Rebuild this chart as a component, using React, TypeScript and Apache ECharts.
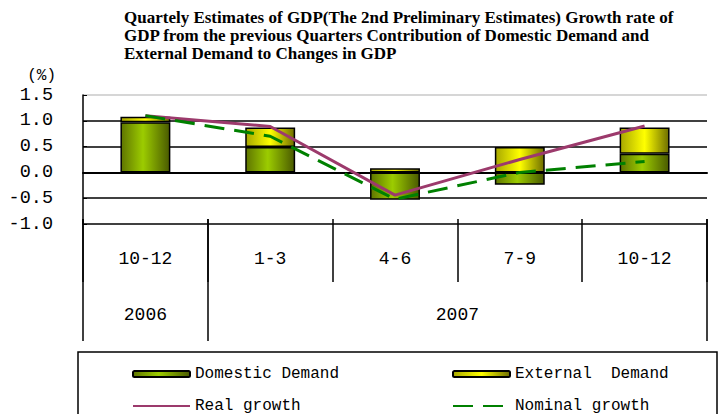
import React, { useEffect, useRef } from "react";
import * as echarts from "echarts";

const quarters = ["10-12", "1-3", "4-6", "7-9", "10-12"];
const years = ["2006", "2007"];
const yearSpans = [1, 4];
const domestic = [0.97, 0.49, -0.53, -0.24, 0.36];
const external = [0.11, 0.38, 0.08, 0.49, 0.51];
const realGrowth = [1.1, 0.89, -0.44, 0.25, 0.9];
const nominalGrowth = [1.1, 0.7, -0.52, 0.0, 0.21];
const yMin = -1.0;
const yMax = 1.5;
const yStep = 0.5;

const titleLines = [
  "Quartely Estimates of GDP(The 2nd Preliminary Estimates) Growth rate of",
  "GDP from the previous Quarters Contribution of Domestic Demand and",
  "External Demand to Changes in GDP",
];

const MONO = "'Liberation Mono', 'DejaVu Sans Mono', monospace";

export default function App() {
  const ref = useRef<HTMLDivElement>(null);
  useEffect(() => {
    if (!ref.current) return;
    document.body.style.margin = "0";
    const chart = echarts.init(ref.current, null, { renderer: "svg" });

    const boundaries: number[] = [0];
    const yearCenters: number[] = [];
    yearSpans.forEach((s) => {
      const start = boundaries[boundaries.length - 1];
      yearCenters.push(start + s / 2);
      boundaries.push(start + s);
    });

    const greenGrad = new echarts.graphic.LinearGradient(0, 0, 1, 0, [
      { offset: 0, color: "#5f7500" },
      { offset: 0.45, color: "#9ccc00" },
      { offset: 1, color: "#4a5a00" },
    ]);
    const yellowGrad = new echarts.graphic.LinearGradient(0, 0, 1, 0, [
      { offset: 0, color: "#a8a800" },
      { offset: 0.5, color: "#ffff00" },
      { offset: 1, color: "#6e6e00" },
    ]);

    const nTicks = Math.round((yMax - yMin) / yStep) + 1;
    const splitColors = Array.from({ length: nTicks }, (_, i) =>
      i === nTicks - 1 ? "#c8c8c8" : "#000000"
    );

    chart.setOption({
      animation: false,
      backgroundColor: "#ffffff",
      title: {
        text: titleLines.join("\n"),
        left: 124,
        top: 8,
        padding: 0,
        textStyle: {
          fontFamily: "'Liberation Serif', 'Times New Roman', serif",
          fontWeight: "bold",
          fontSize: 17,
          lineHeight: 18,
          color: "#000",
        },
      },
      grid: { left: 83, right: 15, top: 95, bottom: 190, containLabel: false },
      xAxis: [
        {
          type: "category",
          data: quarters,
          position: "bottom",
          axisLine: { show: true, lineStyle: { color: "#000", width: 2 } },
          axisTick: { show: false },
          axisLabel: {
            margin: 26,
            fontFamily: MONO,
            fontSize: 18,
            color: "#000",
            interval: 0,
          },
          splitLine: { show: false },
        },
        {
          type: "category",
          data: quarters,
          position: "bottom",
          offset: -5,
          axisLine: { show: false },
          axisTick: { show: true, length: 63, interval: 0, lineStyle: { color: "#000", width: 1.5 } },
          axisLabel: { show: false },
          splitLine: { show: false },
        },
        {
          type: "value",
          min: boundaries[0],
          max: boundaries[boundaries.length - 1],
          position: "bottom",
          offset: -5,
          axisLine: { show: false },
          axisTick: {
            show: true,
            length: 122,
            customValues: boundaries,
            lineStyle: { color: "#000", width: 1.5 },
          },
          axisLabel: {
            show: true,
            customValues: yearCenters,
            formatter: (v: number) => {
              const i = yearCenters.findIndex((c) => Math.abs(c - v) < 1e-6);
              return i >= 0 ? years[i] : "";
            },
            margin: 87,
            fontFamily: MONO,
            fontSize: 18,
            color: "#000",
          },
          splitLine: { show: false },
        },
      ],
      yAxis: {
        type: "value",
        min: yMin,
        max: yMax,
        interval: yStep,
        name: "(%)",
        nameLocation: "end",
        nameGap: 11,
        nameTextStyle: {
          fontFamily: MONO,
          fontSize: 16,
          color: "#000",
          align: "right",
          verticalAlign: "bottom",
          padding: [0, 27, 0, 0],
        },
        axisLine: { show: true, lineStyle: { color: "#000", width: 1.5 } },
        axisTick: { show: true, inside: true, length: 4, lineStyle: { color: "#000" } },
        axisLabel: {
          margin: 30,
          fontFamily: MONO,
          fontSize: 18.5,
          color: "#000",
          formatter: (v: number) => v.toFixed(1),
        },
        splitLine: { show: true, lineStyle: { color: splitColors, width: 1.5 } },
      },
      legend: [
        {
          data: [
            "Domestic Demand",
            { name: "Real growth", itemStyle: { opacity: 0 } },
          ],
          orient: "vertical",
          left: 132,
          top: 366,
          padding: 0,
          itemWidth: 57,
          itemHeight: 6,
          itemGap: 16,
          textStyle: { fontFamily: MONO, fontSize: 16, color: "#000" },
        },
        {
          data: [
            "External Demand",
            { name: "Nominal growth", itemStyle: { opacity: 0 } },
          ],
          orient: "vertical",
          left: 452,
          top: 366,
          padding: 0,
          itemWidth: 57,
          itemHeight: 6,
          itemGap: 16,
          textStyle: { fontFamily: MONO, fontSize: 16, color: "#000" },
          formatter: (n: string) => (n === "External Demand" ? "External  Demand" : n),
        },
      ],
      graphic: [
        {
          type: "rect",
          shape: { x: 78, y: 352, width: 639, height: 90 },
          style: { fill: "none", stroke: "#000", lineWidth: 1.5 },
          silent: true,
        },
      ],
      series: [
        {
          name: "Domestic Demand",
          type: "bar",
          stack: "gdp",
          xAxisIndex: 0,
          barWidth: "40%",
          data: domestic,
          itemStyle: { color: greenGrad, borderColor: "#000", borderWidth: 1.5 },
        },
        {
          name: "External Demand",
          type: "bar",
          stack: "gdp",
          xAxisIndex: 0,
          barWidth: "40%",
          data: external,
          itemStyle: { color: yellowGrad, borderColor: "#000", borderWidth: 1.5 },
        },
        {
          name: "Real growth",
          type: "line",
          xAxisIndex: 0,
          data: realGrowth,
          symbol: "none",
          itemStyle: { color: "#9c3a6c" },
          lineStyle: { color: "#9c3a6c", width: 3 },
        },
        {
          name: "Nominal growth",
          type: "line",
          xAxisIndex: 0,
          data: nominalGrowth,
          symbol: "none",
          itemStyle: { color: "#008000" },
          lineStyle: { color: "#008000", width: 3, type: [20, 10] },
        },
      ],
    });

    return () => chart.dispose();
  }, []);

  return <div ref={ref} style={{ width: 722, height: 414, position: "absolute", left: 0, top: 0 }} />;
}
